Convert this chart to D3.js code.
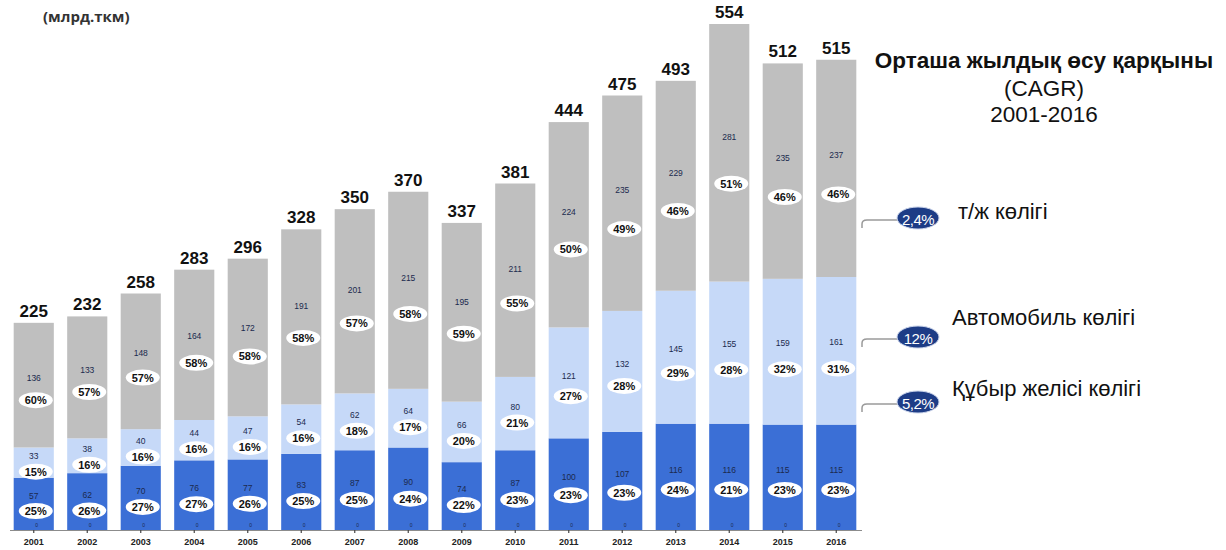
<!DOCTYPE html>
<html>
<head>
<meta charset="utf-8">
<script src="https://cdn.jsdelivr.net/npm/d3@7"></script>
<style>
  html, body { margin: 0; padding: 0; background: #fff; }
  svg { display: block; font-family: "Liberation Sans", Arial, sans-serif; }
</style>
</head>
<body>
<svg id="chart" width="1226" height="550"></svg>
<script>
// ---- data ----
const years = ["2001","2002","2003","2004","2005","2006","2007","2008","2009","2010","2011","2012","2013","2014","2015","2016"];
const totals = [225,232,258,283,296,328,350,370,337,381,444,475,493,554,512,515];
const pipeValues = [57,62,70,76,77,83,87,90,74,87,100,107,116,116,115,115];
const roadValues = [33,38,40,44,47,54,62,64,66,80,121,132,145,155,159,161];
const railValues = [136,133,148,164,172,191,201,215,195,211,224,235,229,281,235,237];
const pipePct = [25,26,27,27,26,25,25,24,22,23,23,23,24,21,23,23];
const roadPct = [15,16,16,16,16,16,18,17,20,21,27,28,29,28,32,31];
const railPct = [60,57,57,58,58,58,57,58,59,55,50,49,46,51,46,46];
const otherValues = [0,0,0,0,0,0,0,0,0,0,0,0,0,0,0,0];
const seriesKeys = ["pipe","road","rail"];
const seriesNames = ["Құбыр желісі көлігі","Автомобиль көлігі","т/ж көлігі"];
const cagrLabels = ["5,2%","12%","2,4%"];
const unitLabel = "(млрд.ткм)";
const cagrTitle = ["Орташа жылдық өсу қарқыны","(CAGR)","2001-2016"];

const colors = { pipe: "#3b6fd6", road: "#c6d9f8", rail: "#bfbfbf" };
const valuesByKey = { pipe: pipeValues, road: roadValues, rail: railValues };
const pctByKey = { pipe: pipePct, road: roadPct, rail: railPct };

const rows = years.map((y, i) => ({ year: y, pipe: pipeValues[i], road: roadValues[i], rail: railValues[i], i }));
const stacked = d3.stack().keys(seriesKeys)(rows);

const svg = d3.select("#chart");
const baseY = 530;

const x = d3.scaleBand().domain(years).range([7, 863]).paddingInner(0.25).paddingOuter(0.125);
const maxSum = d3.max(rows, r => r.pipe + r.road + r.rail);
const y = d3.scaleLinear().domain([0, maxSum]).range([baseY, 24]);

// bars
const layers = svg.append("g").selectAll("g").data(stacked).join("g")
  .attr("fill", d => colors[d.key]);
layers.selectAll("rect").data(d => d).join("rect")
  .attr("x", d => x(d.data.year))
  .attr("width", x.bandwidth())
  .attr("y", d => y(d[1]))
  .attr("height", d => y(d[0]) - y(d[1]));

// axis
const axis = d3.axisBottom(x).tickSize(3).tickPadding(6);
const gx = svg.append("g").attr("transform", `translate(0,${baseY})`).call(axis);
gx.select(".domain").attr("stroke", "#8c8c8c").attr("d", "M10,0.5H862");
gx.selectAll(".tick line").attr("stroke", "#444").attr("stroke-width", 1.2);
gx.selectAll(".tick text").attr("font-size", 9).attr("font-weight", "bold").attr("fill", "#222")
  .attr("font-family", "'Liberation Sans', Arial, sans-serif");

// segment labels
const labelG = svg.append("g");
stacked.forEach(layer => {
  layer.forEach(d => {
    const i = d.data.i;
    const cx = x(d.data.year) + x.bandwidth() / 2;
    const top = y(d[1]), bot = y(d[0]);
    const mid = (top + bot) / 2;
    const h = bot - top;
    const dv = Math.max(7, h * 0.06);
    const dp = Math.max(9, h * 0.12);
    let py = mid + dp;
    if (layer.key === "pipe") py = Math.min(py, bot - 19);
    labelG.append("text")
      .attr("x", cx).attr("y", Math.min(mid - dv, py - 15))
      .attr("text-anchor", "middle").attr("dominant-baseline", "central")
      .attr("font-size", 8.5).attr("fill", "#1b2a4e")
      .text(valuesByKey[layer.key][i]);
    labelG.append("ellipse")
      .attr("cx", cx + 2).attr("cy", py).attr("rx", 17).attr("ry", 8)
      .attr("fill", "#fff");
    labelG.append("text")
      .attr("x", cx + 2).attr("y", py)
      .attr("text-anchor", "middle").attr("dominant-baseline", "central")
      .attr("font-size", 11).attr("font-weight", "bold").attr("fill", "#111")
      .text(pctByKey[layer.key][i] + "%");
  });
});

// tiny zero labels near bottom
svg.append("g").selectAll("text").data(otherValues).join("text")
  .attr("x", (d, i) => x(years[i]) + x.bandwidth() / 2 + 3)
  .attr("y", y(0) - 3)
  .attr("text-anchor", "middle")
  .attr("font-size", 5).attr("fill", "#1b2a4e")
  .text(d => d);

// totals
svg.append("g").selectAll("text").data(rows).join("text")
  .attr("x", d => x(d.year) + x.bandwidth() / 2)
  .attr("y", d => y(d.pipe + d.road + d.rail) - 6)
  .attr("text-anchor", "middle")
  .attr("font-size", 17).attr("font-weight", "bold").attr("fill", "#111")
  .text((d, i) => totals[i]);

// unit label
svg.append("text").attr("x", 43).attr("y", 22)
  .attr("font-family", "'Open Sans', sans-serif")
  .attr("font-size", 15).attr("font-weight", "bold").attr("fill", "#333")
  .text(unitLabel);

// CAGR title
const tg = svg.append("g").attr("text-anchor", "middle").attr("fill", "#111");
tg.append("text").attr("x", 1044).attr("y", 68).attr("font-size", 22.5).attr("font-weight", "bold").text(cagrTitle[0]);
tg.append("text").attr("x", 1044).attr("y", 96).attr("font-size", 22.5).text(cagrTitle[1]);
tg.append("text").attr("x", 1044).attr("y", 122).attr("font-size", 22.5).text(cagrTitle[2]);

// legend / CAGR markers (rail, road, pipe)
const legendY = { rail: 218, road: 337, pipe: 402 };
const legendTextY = { rail: 219, road: 325, pipe: 396 };
const legendTextX = { rail: 958, road: 952, pipe: 952 };
const lg = svg.append("g");
seriesKeys.forEach((k, idx) => {
  const cy = legendY[k];
  lg.append("path")
    .attr("d", `M862,${cy + 10}V${cy + 6}Q862,${cy + 2} 867,${cy + 2}H898`)
    .attr("fill", "none").attr("stroke", "#9a9a9a").attr("stroke-width", 1.5);
  lg.append("ellipse").attr("cx", 918).attr("cy", cy).attr("rx", 21).attr("ry", 11)
    .attr("fill", "#1d3c86").attr("stroke", "#c9d3ea").attr("stroke-width", 1);
  lg.append("text").attr("x", 918).attr("y", cy + 1)
    .attr("text-anchor", "middle").attr("dominant-baseline", "central")
    .attr("font-size", 15).attr("fill", "#fff").attr("letter-spacing", -0.5)
    .text(cagrLabels[idx]);
  lg.append("text").attr("x", legendTextX[k]).attr("y", legendTextY[k])
    .attr("font-size", 22).attr("fill", "#111")
    .text(seriesNames[idx]);
});
</script>
</body>
</html>
